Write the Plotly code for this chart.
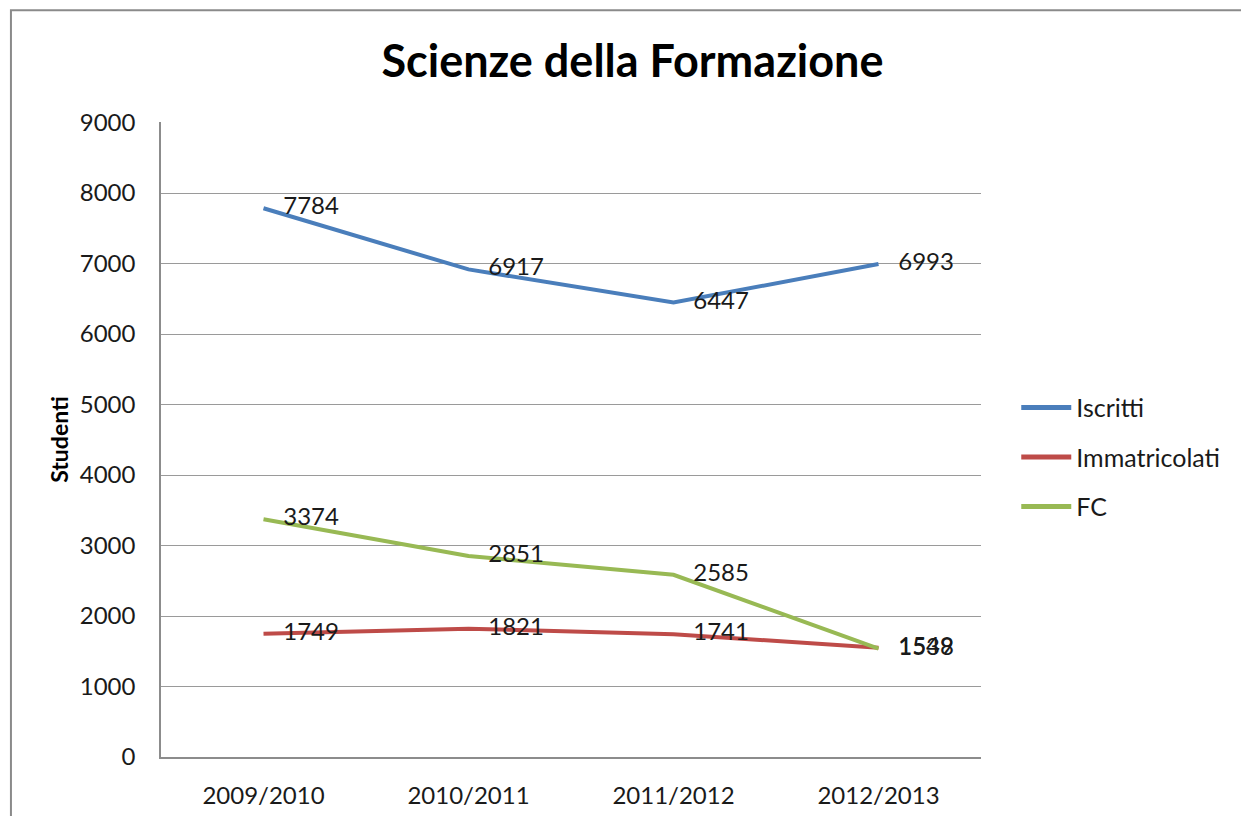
import plotly.graph_objects as go

categories = ["2009/2010", "2010/2011", "2011/2012", "2012/2013"]
iscritti = [7784, 6917, 6447, 6993]
immatricolati = [1749, 1821, 1741, 1549]
fc = [3374, 2851, 2585, 1538]
y_ticks = [0, 1000, 2000, 3000, 4000, 5000, 6000, 7000, 8000, 9000]

FONT = "Lato, 'Open Sans', sans-serif"

fig = go.Figure()
series = [("Iscritti", iscritti, "#4a7ebb"),
          ("Immatricolati", immatricolati, "#be4b48"),
          ("FC", fc, "#98b954")]
for i, (name, vals, col) in enumerate(series):
    fig.add_trace(go.Scatter(
        x=categories, y=vals, name=name, mode="lines+markers+text",
        line=dict(color=col, width=4),
        marker=dict(size=30, color="rgba(0,0,0,0)"),
        text=[str(v) for v in vals], textposition="middle right",
        textfont=dict(family=FONT, size=24, color="#1a1a1a"),
        cliponaxis=False, legendgroup="g%d" % i,
    ))

fig.update_layout(
    width=1249, height=816,
    margin=dict(l=153, r=276, t=114, b=67, autoexpand=False),
    paper_bgcolor="white", plot_bgcolor="white",
    title=dict(text="<b>Scienze della Formazione</b>", x=0.5, xanchor="center",
               y=0.935, yanchor="middle",
               font=dict(family=FONT, size=45, color="#000000")),
    font=dict(family=FONT, size=24, color="#1a1a1a"),
    showlegend=True,
    legend=dict(x=1.043, y=0.472, xanchor="left", yanchor="middle",
                font=dict(family=FONT, size=25, color="#1a1a1a"),
                tracegroupgap=14, itemwidth=50, traceorder="grouped",
                itemsizing="constant"),
    xaxis=dict(type="category", range=[-0.5, 3.5], showgrid=False,
               showline=True, linecolor="#8c8c8c", linewidth=1.5,
               ticks="", tickfont=dict(family=FONT, size=24, color="#1a1a1a"),
               ticklabelstandoff=16, automargin=False),
    yaxis=dict(range=[0, 9008], tickvals=y_ticks, showgrid=True,
               gridcolor="#9a9a9a", gridwidth=1.2, zeroline=False,
               showline=True, linecolor="#8c8c8c", linewidth=1.5,
               ticks="", ticklabelstandoff=19, automargin=False,
               tickfont=dict(family=FONT, size=24, color="#1a1a1a"),
               title=dict(text="<b>Studenti</b>", standoff=5,
                          font=dict(family=FONT, size=23, color="#000000"))),
)

fig.add_shape(type="rect", xref="paper", yref="paper",
              x0=-0.183, y0=-0.3, x1=1.5, y1=1.176,
              line=dict(color="#8a8a8a", width=2), layer="below")

fig.write_html("out.html")
